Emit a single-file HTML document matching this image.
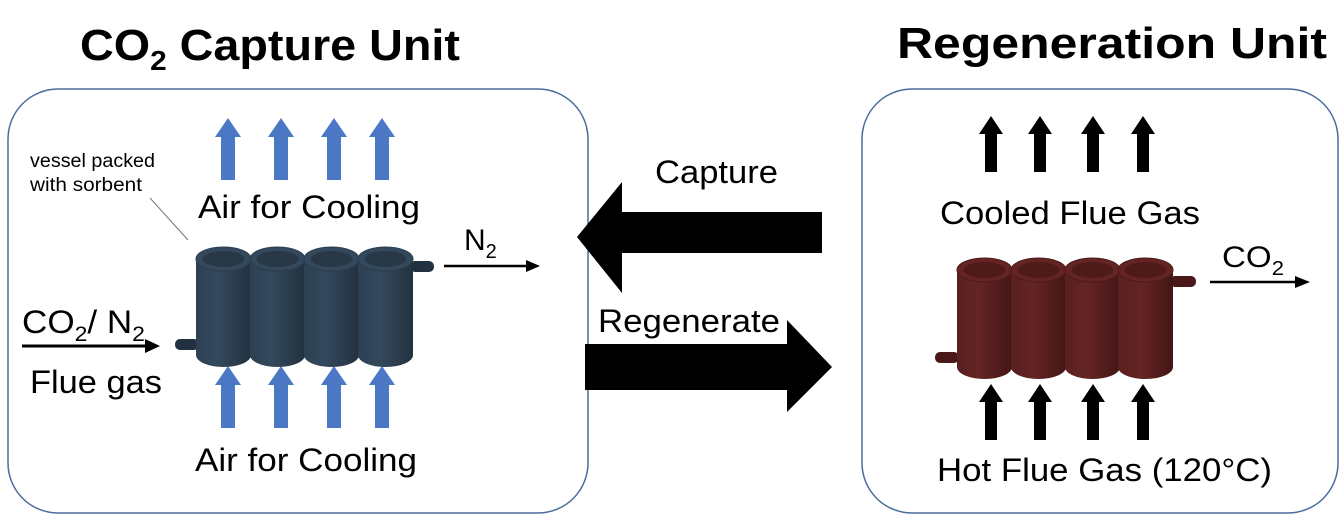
<!DOCTYPE html>
<html><head><style>body{margin:0;background:#fff}svg{display:block}text{font-family:"Liberation Sans",sans-serif}</style></head><body>
<svg width="1341" height="525" viewBox="0 0 1341 525" xmlns="http://www.w3.org/2000/svg">
<defs>
<linearGradient id="gb" x1="0" x2="1"><stop offset="0" stop-color="#2c4052"/><stop offset=".4" stop-color="#34495d"/><stop offset="1" stop-color="#22313f"/></linearGradient>
<linearGradient id="gr" x1="0" x2="1"><stop offset="0" stop-color="#5a1f1f"/><stop offset=".4" stop-color="#652424"/><stop offset="1" stop-color="#441616"/></linearGradient>
<g id="bu"><polygon points="0,-32 13,-13 7,-13 7,30 -7,30 -7,-13 -13,-13" fill="#4a78c4"/></g>
<g id="ku"><polygon points="0,-30 12,-12 6,-12 6,26 -6,26 -6,-12 -12,-12" fill="#000"/></g>
</defs>
<text x="80" y="60" font-size="44" font-weight="bold" textLength="380" lengthAdjust="spacingAndGlyphs">CO<tspan font-size="28" dy="10">2</tspan><tspan dy="-10"> Capture Unit</tspan></text>
<text x="897" y="58" font-size="44" font-weight="bold" textLength="430" lengthAdjust="spacingAndGlyphs">Regeneration Unit</text>
<rect x="8" y="89" width="580" height="424" rx="50" fill="none" stroke="#4a6d9c" stroke-width="1.5"/>
<rect x="862" y="89" width="476" height="424" rx="50" fill="none" stroke="#4a6d9c" stroke-width="1.5"/>

<use href="#bu" x="228" y="150"/><use href="#bu" x="281" y="150"/><use href="#bu" x="334" y="150"/><use href="#bu" x="382" y="150"/>
<use href="#bu" x="228" y="398"/><use href="#bu" x="281" y="398"/><use href="#bu" x="334" y="398"/><use href="#bu" x="382" y="398"/>
<text x="198" y="218" font-size="32" textLength="222" lengthAdjust="spacingAndGlyphs">Air for Cooling</text>
<text x="195" y="471" font-size="32" textLength="222" lengthAdjust="spacingAndGlyphs">Air for Cooling</text>
<text x="30" y="167" font-size="19" textLength="125" lengthAdjust="spacingAndGlyphs">vessel packed</text>
<text x="30" y="191" font-size="19" textLength="112" lengthAdjust="spacingAndGlyphs">with sorbent</text>
<line x1="150" y1="198" x2="188" y2="240" stroke="#777" stroke-width="1"/>

<rect x="175" y="339" width="24" height="11" rx="5" fill="#22313f"/>
<rect x="410" y="261" width="24" height="11" rx="5" fill="#22313f"/>
<g fill="url(#gb)">
<rect x="196" y="259" width="55" height="96"/><ellipse cx="223.5" cy="355" rx="27.5" ry="12"/>
<rect x="250" y="259" width="55" height="96"/><ellipse cx="277.5" cy="355" rx="27.5" ry="12"/>
<rect x="304" y="259" width="55" height="96"/><ellipse cx="331.5" cy="355" rx="27.5" ry="12"/>
<rect x="358" y="259" width="55" height="96"/><ellipse cx="385.5" cy="355" rx="27.5" ry="12"/>
</g>
<g fill="#34495d" stroke="#2c3e4e">
<ellipse cx="223.5" cy="259" rx="27.5" ry="12"/><ellipse cx="277.5" cy="259" rx="27.5" ry="12"/><ellipse cx="331.5" cy="259" rx="27.5" ry="12"/><ellipse cx="385.5" cy="259" rx="27.5" ry="12"/>
</g>
<g fill="#283847"><ellipse cx="223.5" cy="259" rx="21" ry="8"/><ellipse cx="277.5" cy="259" rx="21" ry="8"/><ellipse cx="331.5" cy="259" rx="21" ry="8"/><ellipse cx="385.5" cy="259" rx="21" ry="8"/></g>

<line x1="444" y1="266" x2="528" y2="266" stroke="#000" stroke-width="2.5"/><polygon points="540,266 526,260 526,272"/>
<text x="464" y="250" font-size="30">N<tspan font-size="20" dy="8">2</tspan></text>
<line x1="22" y1="346" x2="146" y2="346" stroke="#000" stroke-width="3"/><polygon points="160,346 145,339 145,353"/>
<text x="22" y="333" font-size="32" textLength="123" lengthAdjust="spacingAndGlyphs">CO<tspan font-size="21" dy="8">2</tspan><tspan dy="-8">/ N</tspan><tspan font-size="21" dy="8">2</tspan></text>
<text x="30" y="393" font-size="32" textLength="132" lengthAdjust="spacingAndGlyphs">Flue gas</text>

<polygon points="577,237 622,182 622,212 822,212 822,253 622,253 622,293" fill="#000"/>
<text x="655" y="183" font-size="32" textLength="123" lengthAdjust="spacingAndGlyphs">Capture</text>
<polygon points="832,367 787,320 787,344 585,344 585,390 787,390 787,412" fill="#000"/>
<text x="598" y="332" font-size="32" textLength="182" lengthAdjust="spacingAndGlyphs">Regenerate</text>

<use href="#ku" x="991" y="146"/><use href="#ku" x="1040" y="146"/><use href="#ku" x="1093" y="146"/><use href="#ku" x="1143" y="146"/>
<use href="#ku" x="991" y="414"/><use href="#ku" x="1040" y="414"/><use href="#ku" x="1093" y="414"/><use href="#ku" x="1143" y="414"/>
<text x="940" y="224" font-size="32" textLength="260" lengthAdjust="spacingAndGlyphs">Cooled Flue Gas</text>
<text x="937" y="481" font-size="32" textLength="335" lengthAdjust="spacingAndGlyphs">Hot Flue Gas (120°C)</text>

<rect x="935" y="352" width="24" height="11" rx="5" fill="#4a1818"/>
<rect x="1170" y="276" width="26" height="11" rx="5" fill="#4a1818"/>
<g fill="url(#gr)">
<rect x="957" y="270" width="55" height="97"/><ellipse cx="984.5" cy="367" rx="27.5" ry="12"/>
<rect x="1011" y="270" width="55" height="97"/><ellipse cx="1038.5" cy="367" rx="27.5" ry="12"/>
<rect x="1065" y="270" width="55" height="97"/><ellipse cx="1092.5" cy="367" rx="27.5" ry="12"/>
<rect x="1118" y="270" width="55" height="97"/><ellipse cx="1145.5" cy="367" rx="27.5" ry="12"/>
</g>
<g fill="#652424" stroke="#4e1a1a">
<ellipse cx="984.5" cy="270" rx="27.5" ry="12"/><ellipse cx="1038.5" cy="270" rx="27.5" ry="12"/><ellipse cx="1092.5" cy="270" rx="27.5" ry="12"/><ellipse cx="1145.5" cy="270" rx="27.5" ry="12"/>
</g>
<g fill="#4f1a1a"><ellipse cx="984.5" cy="270" rx="21" ry="8"/><ellipse cx="1038.5" cy="270" rx="21" ry="8"/><ellipse cx="1092.5" cy="270" rx="21" ry="8"/><ellipse cx="1145.5" cy="270" rx="21" ry="8"/></g>

<line x1="1210" y1="282" x2="1296" y2="282" stroke="#000" stroke-width="2.5"/><polygon points="1310,282 1295,276 1295,288"/>
<text x="1222" y="267" font-size="30" textLength="62" lengthAdjust="spacingAndGlyphs">CO<tspan font-size="20" dy="8">2</tspan></text>
</svg>
</body></html>
